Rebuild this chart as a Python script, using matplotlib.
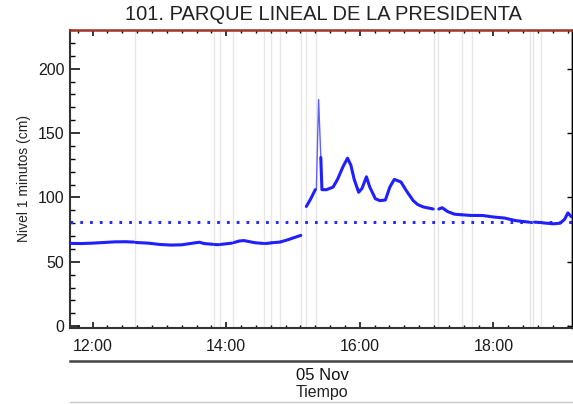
import numpy as np
import pandas as pd
import matplotlib
matplotlib.use("Agg")
import matplotlib.pyplot as plt
import matplotlib.dates as mdates
from matplotlib.lines import Line2D

plt.rcParams['font.family'] = ['Liberation Sans', 'DejaVu Sans']

# ---- datos ----
DAY = "2023-11-05"

# None = hueco sin datos
times = [
    "11:40", "11:50", "12:00", "12:10", "12:20", "12:30", "12:37", None,
    "12:39", "12:50", "13:00", "13:10", "13:20", "13:30", "13:36", "13:40", "13:48", None,
    "13:50", "13:53", None,
    "13:55", "14:00", "14:05", None,
    "14:07", "14:12", "14:16", "14:20", "14:26", "14:33", None,
    "14:35", "14:40", None,
    "14:41", "14:48", None,
    "14:49", "14:55", "15:00", "15:07", None,
    "15:12", "15:16", "15:20", None,
    "15:25", "15:26", "15:30", "15:36", "15:40", "15:45", "15:49", "15:52", "15:55",
    "15:59", "16:02", "16:06", "16:09", "16:14", "16:18", "16:23", "16:27", "16:31",
    "16:37", "16:42", "16:48", "16:52", "16:57", "17:06", None,
    "17:11", "17:14", "17:19", "17:25", "17:31", None,
    "17:32", "17:40", None,
    "17:41", "17:50", "18:00", "18:10", "18:20", "18:32", None,
    "18:37", "18:42", None,
    "18:44", "18:54", "19:00", "19:04", "19:07", "19:10",
]
nivel = [
    64.3, 64.2, 64.5, 65.0, 65.5, 65.6, 65.3, None,
    65.0, 64.5, 63.5, 63.0, 63.2, 64.5, 65.2, 64.2, 63.6, None,
    63.4, 63.3, None,
    63.5, 64.0, 64.5, None,
    65.0, 66.2, 66.5, 65.8, 64.8, 64.3, None,
    64.2, 64.6, None,
    64.8, 65.3, None,
    65.5, 67.0, 68.5, 70.5, None,
    93.0, 99.0, 106.0, None,
    131.0, 106.0, 106.0, 108.0, 114.0, 124.0, 130.5, 125.0, 114.0,
    104.0, 107.0, 116.0, 108.0, 99.0, 97.5, 98.0, 108.0, 114.0,
    112.0, 105.0, 97.5, 94.5, 92.6, 91.0, None,
    91.0, 92.0, 89.0, 87.0, 86.5, None,
    86.5, 86.0, None,
    86.0, 86.0, 84.8, 84.0, 82.0, 80.8, None,
    80.8, 80.5, None,
    80.3, 79.5, 80.0, 83.0, 88.0, 85.0,
]

# pico instantáneo (línea fina)
spike_times = ["15:20", "15:21", "15:23", "15:25"]
spike_vals = [106.0, 106.0, 176.0, 131.0]

umbral = 81.0

# horas sin datos (líneas grises verticales)
gap_times = ["12:38", "13:48:40", "13:54", "14:06", "14:34", "14:40:25", "14:48:45",
             "15:07:35", "15:12", "15:21", "17:06:30", "17:10:40", "17:31:25",
             "17:40:25", "18:33", "18:36", "18:42:45"]

t_start, t_end = "11:39:40", "19:10:40"


def to_dt(s):
    return pd.Timestamp(f"{DAY} {s}").to_pydatetime()


# los huecos repiten la hora anterior con valor NaN
x = []
for s in times:
    x.append(to_dt(s) if s is not None else x[-1])
y = np.array([np.nan if v is None else v for v in nivel])

fig = plt.figure(figsize=(5.73, 4.04), dpi=100)
ax = fig.add_axes([70 / 573, 1 - 327.5 / 404, 502 / 573, 297.5 / 404])

for g in gap_times:
    ax.axvline(to_dt(g), color='#e6e6e6', lw=1.0, zorder=1)

ax.axhline(umbral, color='#2a2aff', lw=2.2, ls=(0, (0.9, 2.3)), zorder=2)
ax.plot([to_dt(s) for s in spike_times], spike_vals, color='#6060ff', lw=1.0, zorder=3)
ax.plot(x, y, color='#1f1fff', lw=2.2, solid_capstyle='round', zorder=4)

ax.set_xlim(to_dt(t_start), to_dt(t_end))
ax.set_ylim(-1, 230)

ax.xaxis.set_major_locator(mdates.HourLocator(byhour=[12, 14, 16, 18]))
ax.xaxis.set_major_formatter(mdates.DateFormatter('%H:%M'))
base = pd.Timestamp(f"{DAY} 12:00")
minor = [(base + pd.Timedelta(minutes=k * 40 / 3)).to_pydatetime() for k in range(-2, 34)]
ax.xaxis.set_minor_locator(matplotlib.ticker.FixedLocator(mdates.date2num(minor)))
ax.yaxis.set_major_locator(matplotlib.ticker.MultipleLocator(50))
ax.yaxis.set_minor_locator(matplotlib.ticker.MultipleLocator(10))

ax.tick_params(axis='x', which='major', direction='in', length=4, width=1.1,
               top=True, labelsize=11.5, pad=8)
ax.tick_params(axis='x', which='minor', direction='in', length=2.3, width=1.0, top=True)
ax.tick_params(axis='y', which='major', direction='in', length=7, width=1.1, labelsize=11.5, pad=4)
ax.tick_params(axis='y', which='minor', direction='in', length=3.6, width=1.0)
for lab in ax.get_xticklabels() + ax.get_yticklabels():
    lab.set_color('#1a1a1a')

# eje derecho con marcas cortas
sec = ax.secondary_yaxis('right')
sec.yaxis.set_major_locator(matplotlib.ticker.MultipleLocator(50))
sec.tick_params(direction='in', length=3.6, width=1.0, labelright=False)
sec.spines['right'].set_linewidth(1.0)

for side in ['left', 'bottom']:
    ax.spines[side].set_linewidth(1.5)
    ax.spines[side].set_color('#333333')
ax.spines['right'].set_linewidth(1.0)
ax.spines['top'].set_color('#a0342a')
ax.spines['top'].set_linewidth(1.8)

ax.set_ylabel('Nivel 1 minutos (cm)', fontsize=10, labelpad=5, color='#222222')

fig.text(323 / 573, 1 - 14 / 404, '101. PARQUE LINEAL DE LA PRESIDENTA',
         ha='center', va='center', fontsize=14.5, color='#222222')
fig.text(322 / 573, 1 - 376 / 404, '05 Nov', ha='center', va='center', fontsize=12, color='#111111')
fig.text(322 / 573, 1 - 392 / 404, 'Tiempo', ha='center', va='center', fontsize=11.5, color='#222222')

fig.add_artist(Line2D([70 / 573, 1], [1 - 360.5 / 404] * 2, color='#444444', lw=1.8))
fig.add_artist(Line2D([70 / 573, 1], [1 - 402 / 404] * 2, color='#c8c8c8', lw=1.0))

fig.savefig('out.png', dpi=100)
